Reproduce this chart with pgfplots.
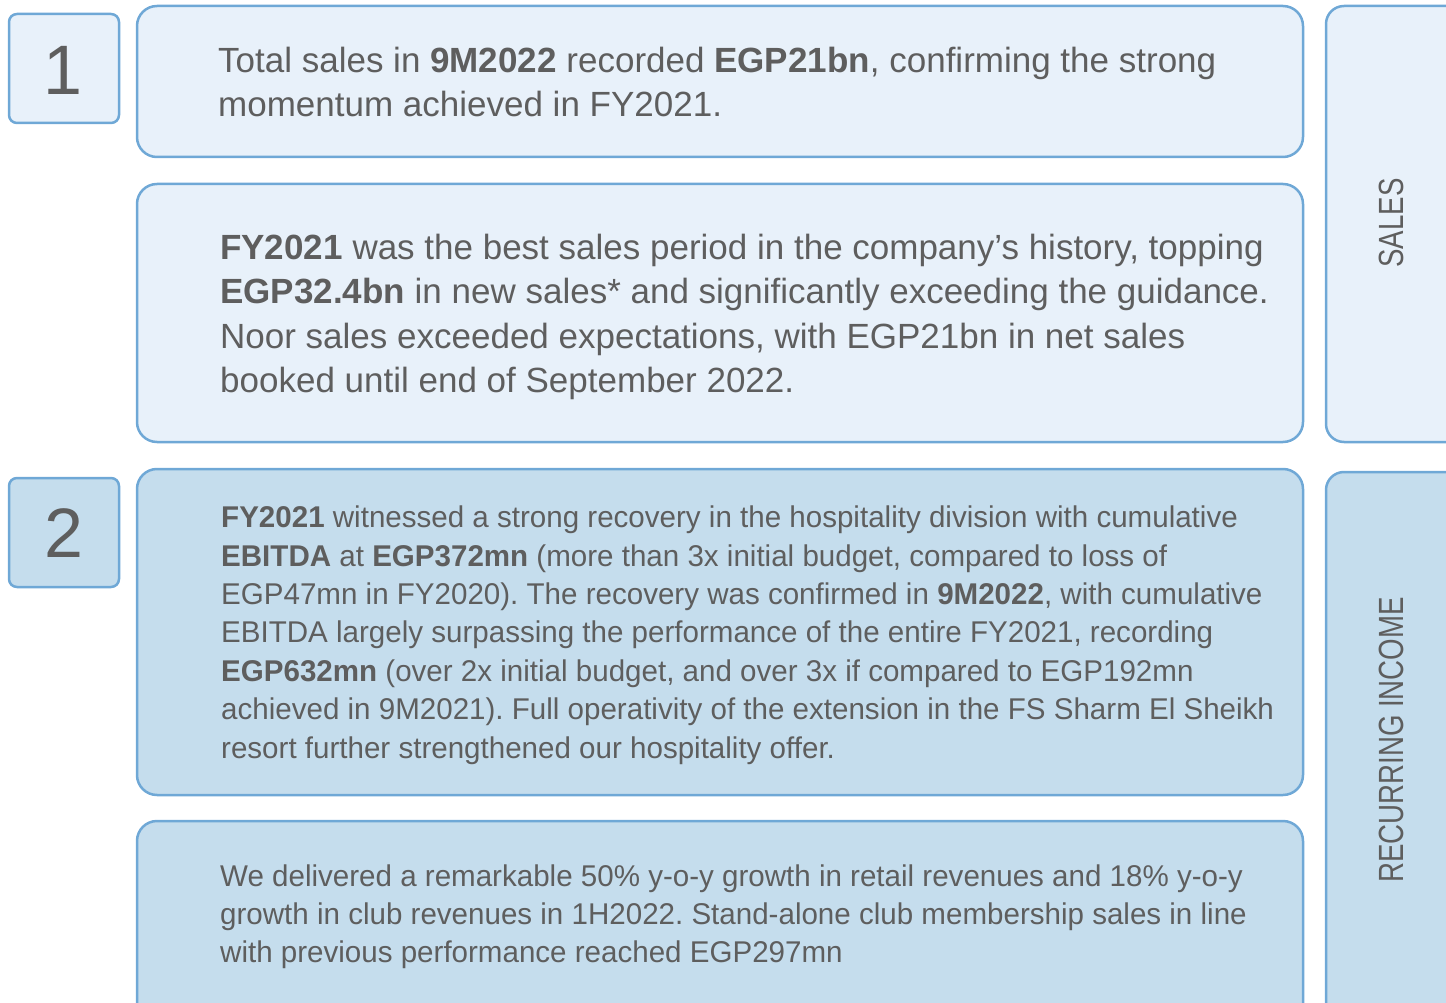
\documentclass[border=0pt]{standalone}
\usepackage{pgfplots}
\pgfplotsset{compat=1.18}
\usepackage{fontspec}
\setmainfont{Liberation Sans}
\newfontfamily\narrowfont[FakeStretch=0.985]{Liberation Sans}
\newfontfamily\condfont[FakeStretch=0.79]{Liberation Sans}
\frenchspacing
\definecolor{lightfill}{HTML}{E8F1FA}
\definecolor{darkfill}{HTML}{C5DDED}
\definecolor{edge}{HTML}{6FA8D6}
\definecolor{txt}{HTML}{5E5E5E}
\newcommand{\tl}[4]{\node[anchor=base west,inner sep=0pt,text=txt,font=\fontsize{#3pt}{#3pt}\selectfont] at (axis cs:#1,#2) {#4};}
\begin{document}
\begin{tikzpicture}
\begin{axis}[scale only axis, width=1446pt, height=1003pt,
  xmin=0, xmax=1446, ymin=0, ymax=1003, y dir=reverse,
  axis lines=none, ticks=none]
\path (axis cs:0,0) rectangle (axis cs:1446,1003);
% boxes
\draw[edge, line width=2.5pt, fill=lightfill, rounded corners=8pt] (axis cs:9,14) rectangle (axis cs:119,123);
\draw[edge, line width=2.5pt, fill=lightfill, rounded corners=20pt] (axis cs:137,6) rectangle (axis cs:1303,157);
\draw[edge, line width=2.5pt, fill=lightfill, rounded corners=20pt] (axis cs:137,184) rectangle (axis cs:1303,442);
\draw[edge, line width=2.5pt, fill=lightfill, rounded corners=18pt] (axis cs:1326,6) rectangle (axis cs:1480,442);
\draw[edge, line width=2.5pt, fill=darkfill, rounded corners=8pt] (axis cs:9,478) rectangle (axis cs:119,587);
\draw[edge, line width=2.5pt, fill=darkfill, rounded corners=20pt] (axis cs:137,469) rectangle (axis cs:1303,795);
\draw[edge, line width=2.5pt, fill=darkfill, rounded corners=20pt] (axis cs:137,821) rectangle (axis cs:1303,1040);
\draw[edge, line width=2.5pt, fill=darkfill, rounded corners=18pt] (axis cs:1326,472) rectangle (axis cs:1480,1040);
% numbers
\node[text=txt, font=\fontsize{70pt}{70pt}\selectfont, inner sep=0pt] at (axis cs:63,70) {1};
\node[text=txt, font=\fontsize{70pt}{70pt}\selectfont, inner sep=0pt] at (axis cs:64,533) {2};
% side labels
\node[text=txt, font=\condfont\fontsize{35pt}{35pt}\selectfont, rotate=90, inner sep=0pt] at (axis cs:1391,223) {SALES};
\node[text=txt, font=\condfont\fontsize{35pt}{35pt}\selectfont, rotate=90, inner sep=0pt] at (axis cs:1391,740) {RECURRING INCOME};
% top 1
\tl{218}{73}{35}{Total sales in \textbf{9M2022} recorded \textbf{EGP21bn}, confirming the strong}
\tl{218}{117}{35}{momentum achieved in FY2021.}
% top 2
\tl{220}{259}{35}{\textbf{FY2021} was the best sales period in the company’s history, topping}
\tl{220}{303}{35}{\textbf{EGP32.4bn} in new sales* and significantly exceeding the guidance.}
\tl{220}{348}{35}{Noor sales exceeded expectations, with EGP21bn in net sales}
\tl{220}{392}{35}{booked until end of September 2022.}
% mid
\tl{221}{527}{30}{\narrowfont\textbf{FY2021} witnessed a strong recovery in the hospitality division with cumulative}
\tl{221}{566}{30}{\narrowfont\textbf{EBITDA} at \textbf{EGP372mn} (more than 3x initial budget, compared to loss of}
\tl{221}{604}{30}{\narrowfont EGP47mn in FY2020). The recovery was confirmed in \textbf{9M2022}, with cumulative}
\tl{221}{642}{30}{\narrowfont EBITDA largely surpassing the performance of the entire FY2021, recording}
\tl{221}{681}{30}{\narrowfont\textbf{EGP632mn} (over 2x initial budget, and over 3x if compared to EGP192mn}
\tl{221}{719}{30}{\narrowfont achieved in 9M2021). Full operativity of the extension in the FS Sharm El Sheikh}
\tl{221}{758}{30}{\narrowfont resort further strengthened our hospitality offer.}
% bottom
\tl{220}{886}{30}{\narrowfont We delivered a remarkable 50\% y-o-y growth in retail revenues and 18\% y-o-y}
\tl{220}{924}{30}{\narrowfont growth in club revenues in 1H2022. Stand-alone club membership sales in line}
\tl{220}{962}{30}{\narrowfont with previous performance reached EGP297mn}
\end{axis}
\end{tikzpicture}
\end{document}
